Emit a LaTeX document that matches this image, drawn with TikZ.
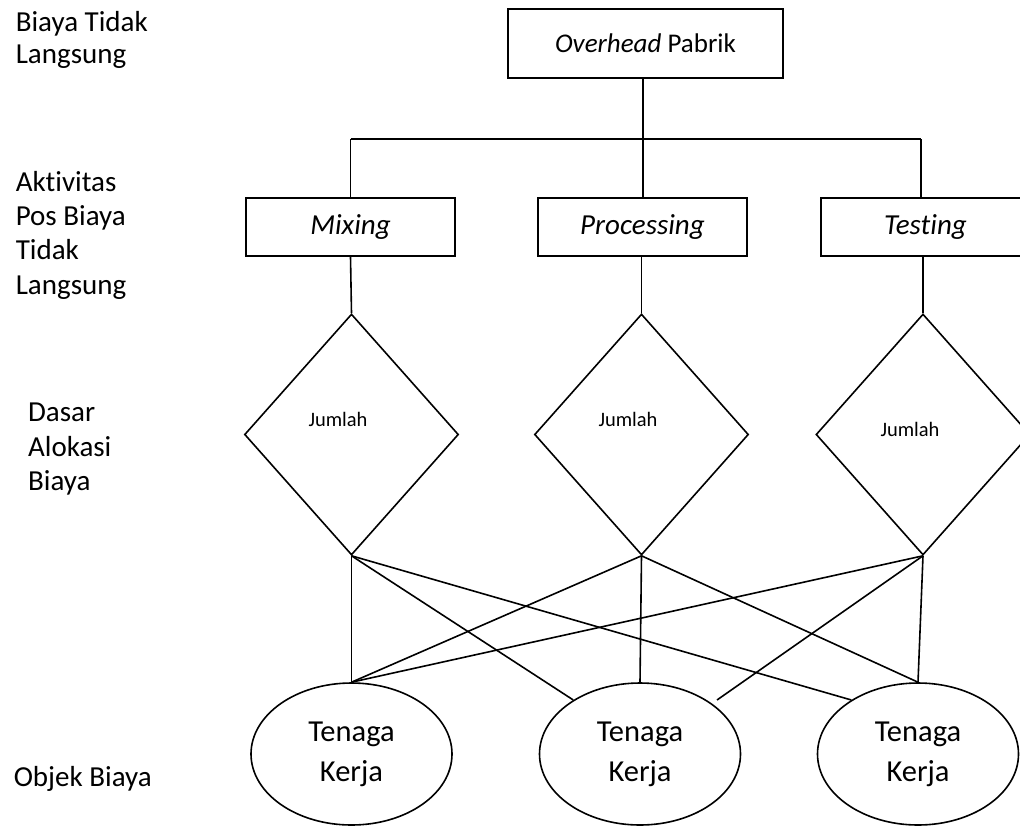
\documentclass[tikz,border=0pt]{standalone}
\usepackage{fontspec}
\setmainfont{Carlito}[Ligatures=NoCommon]
\usetikzlibrary{shapes.geometric}
\begin{document}
\begin{tikzpicture}[x=1pt,y=-1pt,
  line width=1.6pt,
  lbl/.style={anchor=base west,inner sep=0pt,font=\fontsize{29}{34}\selectfont},
  topbox/.style={draw,rectangle,inner sep=0pt,minimum width=275pt,minimum height=69pt,font=\fontsize{27}{33}\selectfont},
  actbox/.style={draw,rectangle,inner sep=0pt,minimum width=209pt,minimum height=58pt,font=\fontsize{29}{34}\selectfont\itshape},
  basis/.style={draw,diamond,inner sep=0pt,minimum width=214pt,minimum height=241pt},
  jml/.style={inner sep=0pt,font=\fontsize{20.5}{24}\selectfont},
  obj/.style={draw,ellipse,inner sep=0pt,minimum width=201pt,minimum height=142pt,align=center,font=\fontsize{30.5}{40}\selectfont},
  conn/.style={draw}]
\useasboundingbox (0,0) rectangle (1020,825);
\fill[white] (0,0) rectangle (1020,825);
\clip (0,0) rectangle (1020,825);

% left labels
\node[lbl] (l1a) at (15,31.7) {Biaya Tidak};
\node[lbl] (l1b) at (15,63.3) {Langsung};
\node[lbl] (l2a) at (15,191.3) {Aktivitas};
\node[lbl] (l2b) at (15,225.6) {Pos Biaya};
\node[lbl] (l2c) at (15,259.9) {Tidak};
\node[lbl] (l2d) at (15,294.2) {Langsung};
\node[lbl] (l3a) at (27.3,421.7) {Dasar};
\node[lbl] (l3b) at (27.3,456.2) {Alokasi};
\node[lbl] (l3c) at (27.3,490.3) {Biaya};
\node[lbl] (l4a) at (13,786) {Objek Biaya};

% top
\node[topbox] (top) at (645.5,43.5) {\textit{Overhead} Pabrik};

% activity boxes
\node[actbox] (mix) at (350.5,227) {Mixing};
\node[actbox] (proc) at (642.5,227) {Processing};
\node[actbox] (test) at (925.5,227) {Testing};

% diamonds
\node[basis] (d1) at (351.5,434.5) {};
\node[basis] (d2) at (641.5,434.5) {};
\node[basis] (d3) at (923,434.5) {};
\node[jml] (j1) at (338,419) {Jumlah};
\node[jml] (j2) at (628,419) {Jumlah};
\node[jml] (j3) at (910,429) {Jumlah};

% cost objects
\node[obj] (e1) at (351.5,754) {Tenaga\\Kerja};
\node[obj] (e2) at (640,754) {Tenaga\\Kerja};
\node[obj] (e3) at (918,754) {Tenaga\\Kerja};

% tree connectors
\coordinate (hub) at (643,139);
\coordinate (hl) at (350.5,139);
\coordinate (hr) at (921,139);
\draw[conn] (top.south -| hub) -- (hub);
\draw[conn] (hl) -- (hr);
\draw[conn] (hl) -- (mix.north);
\draw[conn] (hub) -- (hub |- proc.north);
\draw[conn] (hr) -- (hr |- test.north);

\draw[conn] (mix.south) -- (d1.north);
\draw[conn] (d2.north |- proc.south) -- (d2.north);
\draw[conn] (d3.north |- test.south) -- (d3.north);

% allocation connectors
\coordinate (gap) at (717,700);
\draw[conn] (d1.south) -- (e1.north);
\draw[conn] (d1.south) -- (e2.141);
\draw[conn] (d1.south) -- (e3.141);
\draw[conn] (d2.south) -- (e1.north);
\draw[conn] (d2.south) -- (e2.north);
\draw[conn] (d2.south) -- (e3.north);
\draw[conn] (d3.south) -- (e1.north);
\draw[conn] (d3.south) -- (gap);
\draw[conn] (d3.south) -- (e3.north);
\end{tikzpicture}
\end{document}
